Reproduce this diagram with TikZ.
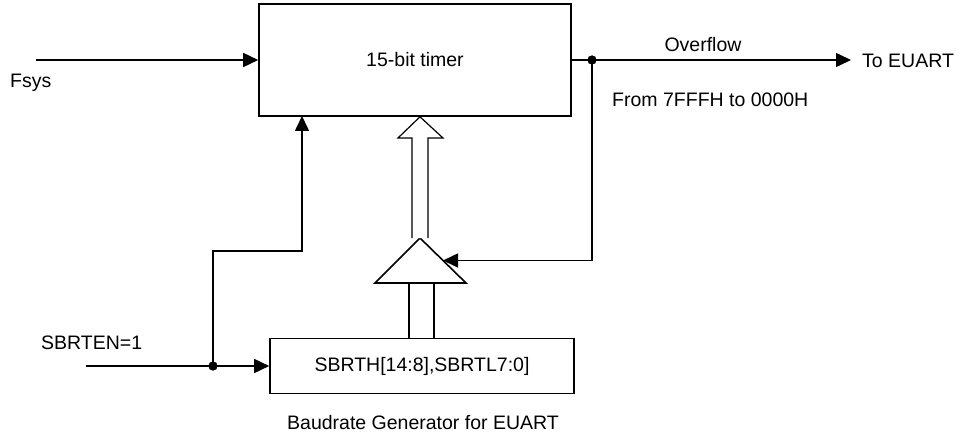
\documentclass[tikz,border=0pt]{standalone}
\usepackage{fontspec}
\setmainfont{Liberation Sans}
\usetikzlibrary{arrows.meta,calc}
\begin{document}
\begin{tikzpicture}[x=1pt,y=-1pt,
  every node/.style={font=\fontsize{19.5}{23}\selectfont, inner sep=0pt},
  blk/.style={draw, line width=1.6pt, minimum width=#1, inner sep=0pt},
  wire/.style={line width=1.6pt},
  arr/.style={wire, -{Triangle[length=15pt,width=14pt]}},
  dotc/.style={circle, fill, minimum size=9pt, inner sep=0pt}
]
\useasboundingbox (0,0) rectangle (962,433);
% blocks
\node[blk=312pt, minimum height=112pt] (timer) at (415,60) {15-bit timer};
\node[blk=304pt, minimum height=55pt] (gen) at (422,366) {SBRTH[14:8],SBRTL7:0]};
% triangle
\coordinate (tA) at (420,238);
\coordinate (tL) at (375,283);
\coordinate (tR) at (466,283);
\draw[wire, line join=miter] (tA) -- (tL) -- (tR) -- cycle;
\coordinate (tSide) at ($(tA)!0.5!(tR)$);
% hollow arrow
\draw[line width=1.2pt, fill=white, line join=miter]
  (412,238) -- (412,138) -- (398,138) -- (timer.south -| tA) -- (443,138) -- (428,138) -- (428,238);
% bus lines from generator to triangle
\draw[wire] (gen.north -| 409,0) -- (409,283);
\draw[wire] (gen.north -| 434,0) -- (434,283);
% Fsys
\coordinate (fin) at (36,60);
\draw[arr] (fin) -- (timer.west);
\node[anchor=west] (fsys) at (10,83) {Fsys};
% overflow
\node[dotc] (ovd) at (592,60) {};
\coordinate (ovend) at (851,60);
\draw[wire] (timer.east) -- (ovd.center);
\draw[arr] (ovd.center) -- (ovend);
\node (ovl) at (703,45) {Overflow};
\node[anchor=west] (toe) at (862,61) {To EUART};
\node[anchor=west] (from) at (612,100) {From 7FFFH to 0000H};
\draw[arr] (ovd.center) |- (tSide);
% enable
\coordinate (ein) at (86,366);
\node[dotc] (ed) at (213,366) {};
\draw[wire] (ein) -- (ed.center);
\draw[arr] (ed.center) -- (gen.west);
\coordinate (tin) at (302,116);
\draw[arr] (ed.center) |- (302,251) -- (tin);
\node[dotc] at (ovd) {};
\node[dotc] at (ed) {};
\node[anchor=west] (sbrten) at (41,343) {SBRTEN=1};
\node (baud) at (423,423) {Baudrate Generator for EUART};
\end{tikzpicture}
\end{document}
